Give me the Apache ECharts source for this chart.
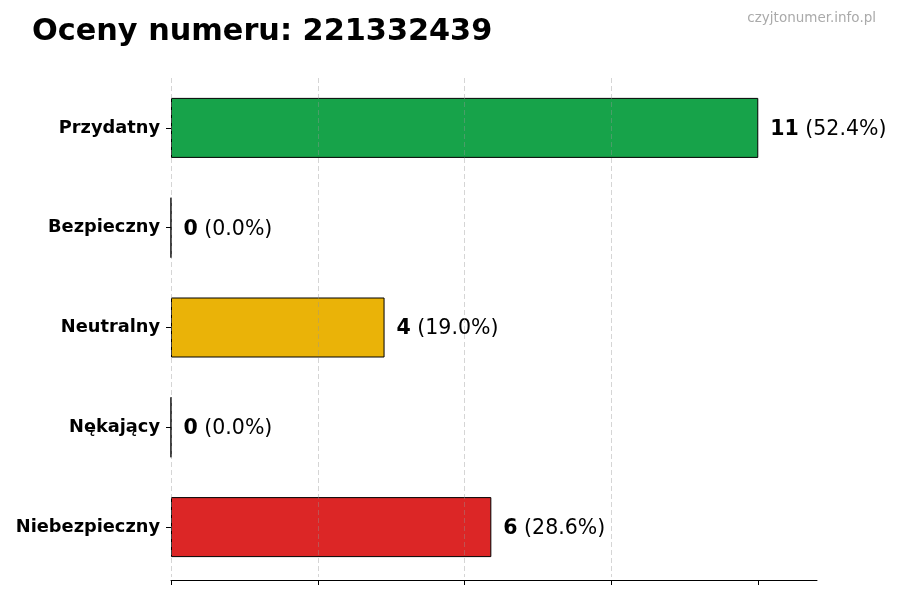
<!DOCTYPE html>
<html>
<head>
<meta charset="utf-8">
<script src="https://cdn.jsdelivr.net/npm/echarts@6/dist/echarts.min.js"></script>
<style>
html,body{margin:0;padding:0;background:#fff;}
#c{width:900px;height:600px;}
</style>
</head>
<body>
<div id="c"></div>
<script>
const titleText = 'Oceny numeru: 221332439';
const watermark = 'czyjtonumer.info.pl';
const categories = ['Przydatny', 'Bezpieczny', 'Neutralny', 'Nękający', 'Niebezpieczny'];
const counts = [11, 0, 4, 0, 6];
const barColors = ['#17a34a', '#9ca3af', '#eab308', '#6b7280', '#dc2626'];
const xTicks = [0, 2.75, 5.5, 8.25, 11];
const xMax = 12.1;

const total = counts.reduce((a, b) => a + b, 0);
const FONT = 'DejaVu Sans';

const chart = echarts.init(document.getElementById('c'), null, {renderer: 'canvas'});
chart.setOption({
  animation: false,
  backgroundColor: '#ffffff',
  title: {
    text: titleText,
    left: 32,
    top: 17,
    padding: 0,
    textStyle: {fontFamily: FONT, fontSize: 30.3, fontWeight: 'bold', color: '#000'}
  },
  graphic: [{
    type: 'text',
    right: 24,
    top: 11,
    style: {text: watermark, fontFamily: FONT, fontSize: 13.5, fill: '#aaaaaa'}
  }],
  grid: {left: 171, right: 83, top: 78, bottom: 23, containLabel: false},
  xAxis: {
    type: 'value',
    min: 0,
    max: xMax,
    z: 3,
    offset: 3,
    axisLine: {show: true, lineStyle: {color: '#000', width: 1}},
    axisTick: {show: true, length: 5, lineStyle: {color: '#000', width: 1}, customValues: xTicks},
    axisLabel: {show: false},
    splitLine: {show: true, showMaxLine: false, lineStyle: {color: 'rgba(150,150,150,0.4)', type: [5, 3], width: 1}}
  },
  yAxis: {
    type: 'category',
    data: categories,
    inverse: true,
    axisLine: {show: false},
    axisTick: {show: true, alignWithLabel: true, length: 5, lineStyle: {color: '#000', width: 1}},
    axisLabel: {margin: 11, padding: [4, 0, 0, 0], fontFamily: FONT, fontSize: 17.8, fontWeight: 'bold', color: '#000'},
    splitLine: {show: false}
  },
  series: [{
    type: 'bar',
    data: counts.map((v, i) => ({value: v, itemStyle: {color: barColors[i]}})),
    barWidth: 60,
    itemStyle: {borderColor: '#000', borderWidth: 1},
    label: {
      show: true,
      position: 'right',
      distance: 12,
      offset: [0, 1.5],
      formatter: p => '{b|' + counts[p.dataIndex] + '}{n| (' + (counts[p.dataIndex] / total * 100).toFixed(1) + '%)}',
      rich: {
        b: {fontFamily: FONT, fontSize: 20.5, fontWeight: 'bold', color: '#000'},
        n: {fontFamily: FONT, fontSize: 20.5, color: '#000'}
      }
    }
  }]
});
</script>
</body>
</html>
